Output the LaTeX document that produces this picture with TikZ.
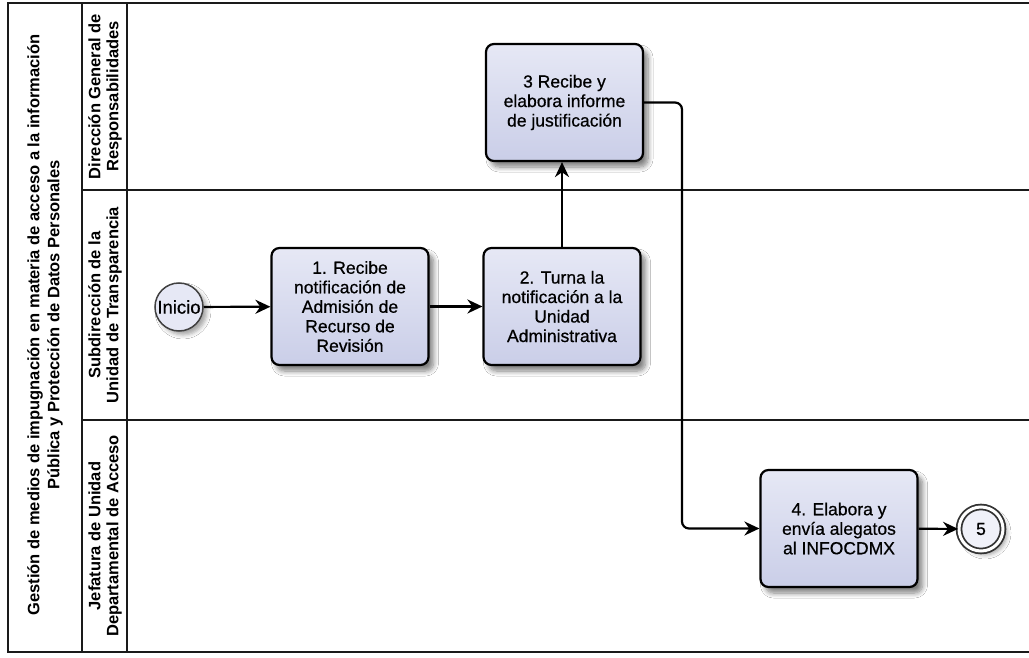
\documentclass[tikz,border=0pt]{standalone}
\usepackage{fontspec}
\setmainfont{Liberation Sans}
\newfontfamily\taskfont[FakeBold=0.6]{Liberation Sans}
\usetikzlibrary{arrows.meta,shadows.blur}

\definecolor{taskTop}{HTML}{E6E8F5}
\definecolor{taskBot}{HTML}{CACEE8}
\definecolor{laneLine}{HTML}{1A1A1A}

\tikzset{
  task/.style={draw=black, line width=2.2pt, rounded corners=8pt,
    top color=taskTop, bottom color=taskBot,
    minimum width=157pt, minimum height=117pt, inner sep=2pt,
    align=center, font=\taskfont\fontsize{17.5}{19.5}\selectfont,
    blur shadow={shadow xshift=5pt, shadow yshift=-6pt,
      shadow blur radius=5pt, shadow blur steps=8, shadow opacity=50}},
  startev/.style={circle, draw=black!75, line width=1.5pt,
    fill=taskTop, minimum size=48pt, inner sep=0pt,
    font=\taskfont\fontsize{18.5}{19.5}\selectfont,
    blur shadow={shadow xshift=4pt, shadow yshift=-4pt,
      shadow blur radius=4pt, shadow opacity=35}},
  endev/.style={circle, draw=black!80, line width=1.8pt, double=white,
    double distance=3pt, fill=taskTop!60, minimum size=44pt, inner sep=0pt,
    font=\taskfont\fontsize{17.5}{19.5}\selectfont,
    blur shadow={shadow xshift=4pt, shadow yshift=-4pt,
      shadow blur radius=4pt, shadow opacity=35}},
  flow/.style={draw=black, line width=2.2pt,
    -{Stealth[length=15pt, width=14pt]}},
  lanehead/.style={rotate=90, align=center,
    font=\bfseries\fontsize{16.5}{18}\selectfont},
  pooltitle/.style={rotate=90, align=center,
    font=\bfseries\fontsize{16.5}{20}\selectfont},
  frame/.style={draw=laneLine, line width=2pt}
}

\begin{document}
\begin{tikzpicture}[x=1pt, y=-1pt]
  \useasboundingbox (0,0) rectangle (1029,658);
  \fill[white] (0,0) rectangle (1029,658);

  % pool frame, title column and lane header column
  \draw[frame] (1029,3) -- (8,3) -- (8,652) -- (1029,652);
  \draw[frame] (82,3) -- (82,652);
  \draw[frame] (127,3) -- (127,652);
  % lane separators
  \draw[frame] (82,190) -- (1029,190);
  \draw[frame] (82,420) -- (1029,420);

  % pool title and lane names
  \node[pooltitle] (pool) at (45,325)
    {Gestión de medios de impugnación en materia de acceso a la información\\
     Pública y Protección de Datos Personales};
  \node[lanehead] (lane1) at (105,96.5)
    {Dirección General de\\Responsabilidades};
  \node[lanehead] (lane2) at (105,305)
    {Subdirección de la\\Unidad de Transparencia};
  \node[lanehead] (lane3) at (105,536)
    {Jefatura de Unidad\\Departamental de Acceso};

  % events and tasks
  \node[startev] (start) at (179,307) {Inicio};
  \node[task] (t1) at (350,306.5)
    {1. Recibe\\notificación de\\Admisión de\\Recurso de\\Revisión};
  \node[task] (t2) at (562,306.5)
    {2. Turna la\\notificación a la\\Unidad\\Administrativa};
  \node[task] (t3) at (564.5,102.5)
    {3 Recibe y\\elabora informe\\de justificación};
  \node[task] (t4) at (839,528.5)
    {4. Elabora y\\envía alegatos\\al INFOCDMX};
  \node[endev] (end) at (981,529) {5};

  % sequence flows
  \coordinate (turn) at (682,300);
  \draw[flow] (start) -- (t1);
  \draw[flow] (t1) -- (t2);
  \draw[flow] (t2.north) -- (t2.north |- t3.south);
  \draw[flow, rounded corners=7pt] (t3.east) -| (turn) |- (t4.west);
  \draw[flow] (t4) -- (end);
\end{tikzpicture}
\end{document}
